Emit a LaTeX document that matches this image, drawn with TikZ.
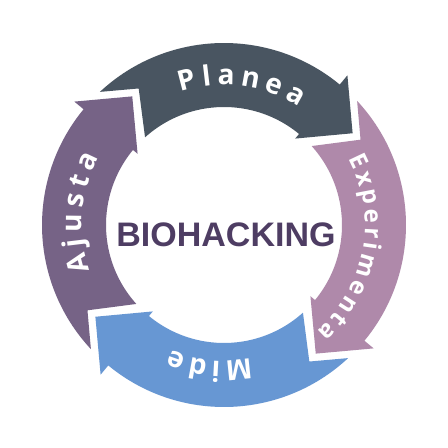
\documentclass[tikz,border=0pt]{standalone}
\usepackage{fontspec}
\newfontfamily\lblfont{Open Sans}
\newfontfamily\biofont{Liberation Sans}
\usetikzlibrary{decorations.text}
\definecolor{cplanea}{HTML}{495561}
\definecolor{cexp}{HTML}{AF89AA}
\definecolor{cmide}{HTML}{6797D3}
\definecolor{cajusta}{HTML}{766386}
\definecolor{cbio}{HTML}{4E3D63}
\tikzset{
  lbl/.style={decorate, decoration={text along path, text align=fit to path, text color=white}},
}
\newcommand\lblfmt{\lblfont\bfseries\fontsize{28}{30}\selectfont}
\newcommand\lblfmtsmall{\lblfont\bfseries\fontsize{24}{30}\selectfont}
\newcommand\cycarrow[2]{%
  \fill[#2] ({133+#1}:182pt) arc[start angle={133+#1}, end angle={50.5+#1}, radius=182pt]
    -- ({50.5+#1}:194pt) -- ({35.5+#1}:158pt) -- ({50.5+#1}:112pt) -- ({50.5+#1}:118pt)
    arc[start angle={50.5+#1}, end angle={132+#1}, radius=118pt] -- ({122+#1}:161pt) -- cycle;}
\begin{document}
\begin{tikzpicture}[x=1pt,y=1pt]
\useasboundingbox (0,0) rectangle (448,448);
\fill[white] (0,0) rectangle (448,448);
\begin{scope}[shift={(224,223)}]
  \cycarrow{0}{cplanea}
  \cycarrow{-90}{cexp}
  \cycarrow{-180}{cmide}
  \cycarrow{-270}{cajusta}
  \path[lbl, decoration={text={|\lblfmt|Planea}}] (108:140pt) arc[start angle=108, end angle=57.5, radius=140pt];
  \path[lbl, decoration={text={|\lblfmtsmall|Experimenta}}] (28:141pt) arc[start angle=28, end angle=-49, radius=141pt];
  \path[lbl, decoration={text={|\lblfmt|Mide}}] (-78.5:136pt) arc[start angle=-78.5, end angle=-113, radius=136pt];
  \path[lbl, decoration={text={|\lblfmt|Ajusta}}] (198.7:142pt) arc[start angle=198.7, end angle=151.5, radius=142pt];
\end{scope}
\node[font=\biofont\bfseries\fontsize{34}{34}\selectfont, text=cbio, anchor=base, inner sep=0pt] (bio) at (226,201.3) {BIOHACKING};
\end{tikzpicture}
\end{document}
